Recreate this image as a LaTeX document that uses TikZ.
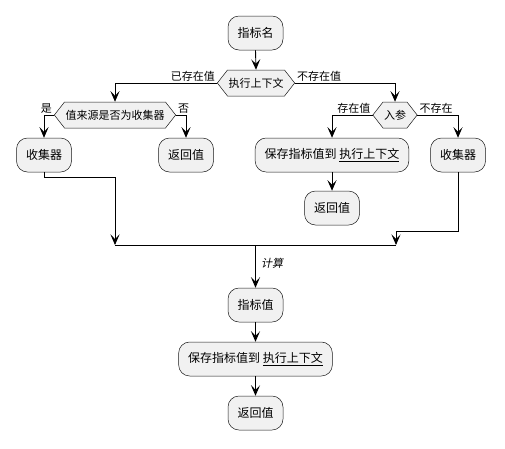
\documentclass[tikz,border=0pt]{standalone}
\usepackage{fontspec}
\setmainfont{Noto Sans CJK SC}
\newfontfamily\cjkit[FakeSlant=0.2]{Noto Sans CJK SC}
\usetikzlibrary{shapes.symbols,arrows.meta}
\definecolor{boxfill}{HTML}{F1F1F1}
\definecolor{boxline}{HTML}{181818}
\tikzset{
 act/.style={draw=boxline, fill=boxfill, rounded corners=11pt, minimum height=34pt, inner xsep=9.5pt, font=\fontsize{12}{14}\selectfont, line width=0.5pt},
 hexa/.style={draw=boxline, fill=boxfill, shape=signal, signal to=west and east, signal pointer angle=104, minimum height=26pt, inner xsep=1pt, inner ysep=0pt, font=\fontsize{11}{13}\selectfont, line width=0.5pt},
 lbl/.style={font=\fontsize{11}{13}\selectfont, inner sep=1pt},
 arr/.style={-{Stealth[length=10.5pt,width=9pt,inset=4.5pt]}, line width=0.9pt},
 ln/.style={line width=0.9pt}
}
\begin{document}
\begin{tikzpicture}[x=1pt,y=-1pt]
\useasboundingbox (0,0) rectangle (505,448);
\node[act] (n1) at (255.5,33) {指标名};
\node[hexa] (d1) at (256,83) {执行上下文};
\node[hexa] (d2) at (115,115) {值来源是否为收集器};
\node[hexa] (d3) at (395,115) {入参};
\node[act] (c1) at (44,155) {收集器};
\node[act] (r1) at (186,155) {返回值};
\node[act] (s1) at (332,155) {保存指标值到 \underline{执行上下文}};
\node[act] (c2) at (458,155) {收集器};
\node[act] (r2) at (332,208) {返回值};
\node[act] (v) at (255.5,305) {指标值};
\node[act] (s2) at (255.5,359) {保存指标值到 \underline{执行上下文}};
\node[act] (r3) at (255.5,413) {返回值};
\coordinate (j1) at (115,177);
\coordinate (j2) at (396,231);
\coordinate (m1) at (115,245);
\coordinate (m2) at (396,245);
\coordinate (mc) at (255.5,245);
% labels
\node[lbl, anchor=south east] (l1) at ([xshift=-1pt]d1.west) {已存在值};
\node[lbl, anchor=south west] (l2) at ([xshift=1pt]d1.east) {不存在值};
\node[lbl, anchor=south east] (l3) at ([xshift=-1pt]d2.west) {是};
\node[lbl, anchor=south west] (l4) at ([xshift=1pt]d2.east) {否};
\node[lbl, anchor=south east] (l5) at ([xshift=-1pt]d3.west) {存在值};
\node[lbl, anchor=south west] (l6) at ([xshift=1pt]d3.east) {不存在};
\node[lbl, anchor=west, font=\fontsize{11}{13}\cjkit] (l7) at (260,263) {计算};
% connectors
\draw[arr] (n1.south) -- (d1.north);
\draw[arr] (d1.west) -| (d2.north);
\draw[arr] (d1.east) -| (d3.north);
\draw[arr] (d2.west) -| (c1.north);
\draw[arr] (d2.east) -| (r1.north);
\draw[arr] (d3.west) -| (s1.north);
\draw[arr] (d3.east) -| (c2.north);
\draw[arr] (s1.south) -- (r2.north);
\draw[arr] (c1.south) |- (j1) -- (m1);
\draw[arr] (c2.south) |- (j2) -- (m2);
\draw[ln] (m1) -- (m2);
\draw[arr] (mc) -- (v.north);
\draw[arr] (v.south) -- (s2.north);
\draw[arr] (s2.south) -- (r3.north);
\end{tikzpicture}
\end{document}
